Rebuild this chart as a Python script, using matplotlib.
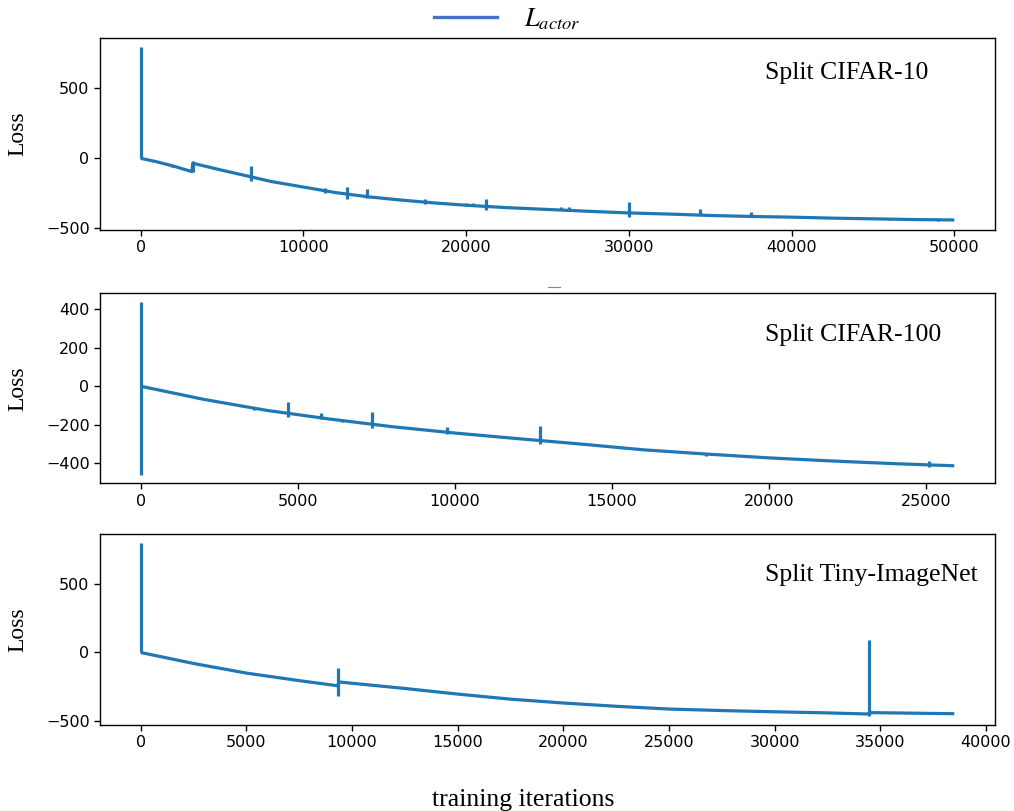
import matplotlib
matplotlib.use("Agg")
import matplotlib.pyplot as plt
from matplotlib.lines import Line2D
import numpy as np

plt.rcParams['mathtext.fontset'] = 'stix'

# ---------------- data ----------------
# Split CIFAR-10
c10_x = [0, 1000, 2000, 3150, 3200, 5000, 6700, 8000, 10000, 12000, 14000, 16000,
         18000, 20000, 22500, 25000, 27500, 30000, 32500, 35000, 37500, 40000,
         42500, 45000, 47500, 50000]
c10_y = [0, -25, -55, -95, -35, -85, -130, -165, -205, -245, -275, -298,
         -318, -335, -352, -365, -378, -390, -398, -408, -415, -420,
         -427, -432, -437, -440]
c10_spike_x = [0, 1900, 3200, 6800, 11300, 12700, 13900, 17500, 20000, 20400, 21200,
               22900, 25800, 26300, 30000, 34400, 37500, 46000, 49000]
c10_spike_lo = [0, -62, -95, -160, -245, -290, -285, -325, -342, -342, -370,
                -358, -372, -374, -420, -405, -418, -440, -446]
c10_spike_hi = [797, -45, -20, -55, -214, -203, -219, -293, -318, -318, -293,
                -345, -350, -350, -310, -364, -385, -426, -430]

# Split CIFAR-100
c100_x = [0, 2000, 4000, 6000, 8000, 10000, 12000, 14000, 16000, 18000, 20000,
          22000, 24000, 25900]
c100_y = [0, -68, -125, -170, -210, -243, -272, -300, -330, -352, -372,
          -388, -402, -413]
c100_spike_x = [0, 3600, 4700, 5750, 6400, 7350, 9750, 12700, 18000, 25100]
c100_spike_lo = [-460, -125, -158, -172, -188, -217, -248, -298, -360, -420]
c100_spike_hi = [439, -108, -81, -140, -170, -133, -213, -204, -345, -387]

# Split Tiny-ImageNet
tin_x = [0, 2500, 5000, 7500, 9300, 9400, 12500, 15000, 17500, 20000, 22500,
         25000, 27500, 30000, 32500, 34400, 34500, 36500, 38500]
tin_y = [0, -80, -150, -205, -242, -215, -262, -303, -340, -368, -392,
         -412, -423, -432, -440, -448, -438, -442, -446]
tin_spike_x = [0, 9350, 34450]
tin_spike_lo = [0, -320, -465]
tin_spike_hi = [800, -116, 90]

titles = ["Split CIFAR-10", "Split CIFAR-100", "Split Tiny-ImageNet"]
title_y = [0.817, 0.78, 0.785]

series = [
    (c10_x, c10_y, c10_spike_x, c10_spike_lo, c10_spike_hi),
    (c100_x, c100_y, c100_spike_x, c100_spike_lo, c100_spike_hi),
    (tin_x, tin_y, tin_spike_x, tin_spike_lo, tin_spike_hi),
]
yticks = [[-500, 0, 500], [-400, -200, 0, 200, 400], [-500, 0, 500]]

# ---------------- figure ----------------
W, H = 1014, 811
fig = plt.figure(figsize=(W / 100, H / 100), dpi=100)

axes_px = [(100, 995, 38, 229.5), (100, 995, 293, 483.5), (100, 995, 534, 725)]
line_color = '#1f77b4'
serif = ['Liberation Serif', 'DejaVu Serif']

for i, (l, r, t, b) in enumerate(axes_px):
    ax = fig.add_axes([l / W, 1 - b / H, (r - l) / W, (b - t) / H])
    xs, ys, sx, slo, shi = series[i]
    ax.plot(xs, ys, color=line_color, lw=2.3, solid_capstyle='butt')
    ax.vlines(sx, slo, shi, color=line_color, lw=2.3)
    ax.set_yticks(yticks[i])
    ax.tick_params(labelsize=11.5, width=1.0, length=4)
    for s in ax.spines.values():
        s.set_linewidth(1.0)
    ax.set_ylabel("Loss", fontsize=17, family=serif)
    ax.yaxis.set_label_coords(-0.08, 0.5)
    ax.text(0.743, title_y[i], titles[i], transform=ax.transAxes,
            fontsize=18.5, family=serif, ha='left', va='center')

fig.text(0.516, 0.014, "training iterations", fontsize=18.5, family=serif,
         ha='center', va='center')

handle = Line2D([], [], color='#4472C4', lw=2.4)
fig.legend([handle], [r"$L_{actor}$"], loc='upper center',
           bbox_to_anchor=(0.5, 1.022), frameon=False, fontsize=19,
           handlelength=2.4, handletextpad=1.0)

# small stray dash above the second panel
fig.add_artist(Line2D([548 / W, 560 / W], [1 - 287 / H, 1 - 287 / H],
                      color='#888888', lw=0.8))

fig.savefig("out.png", dpi=100)
